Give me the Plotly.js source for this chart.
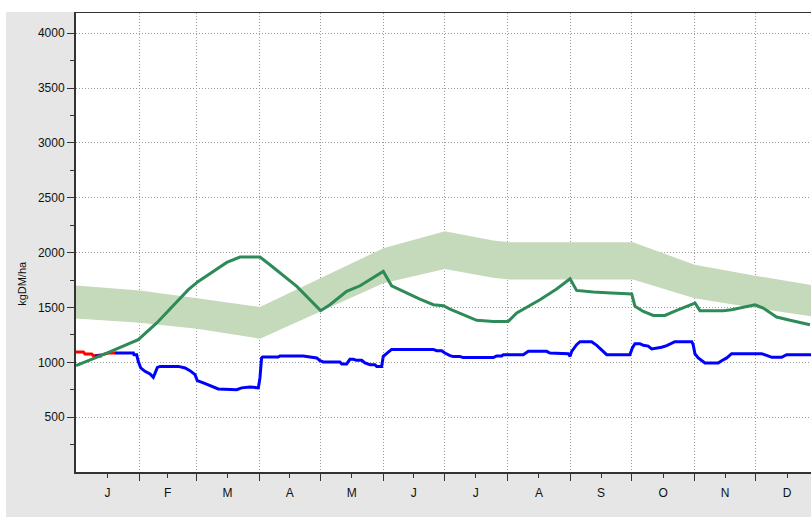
<!DOCTYPE html>
<html>
<head>
<meta charset="utf-8">
<script src="https://cdn.plot.ly/plotly-3.0.1.min.js"></script>
<style>
html,body{margin:0;padding:0;background:#ffffff;overflow:hidden;width:811px;height:518px;}
#chart{position:absolute;left:6px;top:12px;width:805px;height:505px;}
</style>
</head>
<body>
<div id="chart"></div>
<script>
// Day of year (0 = 1 Jan) and kgDM/ha values
const monthLabels = ["J","F","M","A","M","J","J","A","S","O","N","D"];
const monthMid = [15.5,45,74.5,105,135.5,166,196.5,227.5,258,288.5,319,349.5];
const monthStart = [31,59,90,120,151,181,212,243,273,304,334];
const yTicks = [500,1000,1500,2000,2500,3000,3500,4000];
const yMinorTicks = [250,750,1250,1750,2250,2750,3250,3750];

const bandDays  = [0,31.4,59.5,90.4,151,181.3,205,213,273.7,304,333.7,361.2];
const bandUpper = [1700,1655,1585,1505,2040,2195,2110,2095,2095,1890,1790,1705];
const bandLower = [1400,1360,1305,1215,1720,1850,1770,1755,1755,1585,1495,1420];

const redDays = [0,3.6,4.4,7.7,8.5,9.5,13,15.9,19.5];
const redVals = [1095,1095,1076,1076,1061,1061,1070,1085,1085];

const blueDays = [9.3,12.6,16,19.2,28.2,28.5,29.8,30.6,31.8,33.9,36.4,38,40,41.3,50.3,53.6,56,58.5,59.6,62.6,66.7,69.9,79,81.4,85.5,88,89.6,90.4,91.2,91.7,99.4,100.2,111.7,115,118.3,119.9,121.5,129.7,130.6,133,134.6,136.3,137.9,140.4,142,144.5,146.9,147.8,150.2,151,153.5,155.1,175.6,177.2,179.7,181.3,183.8,185.4,188.7,190.3,205.1,206.7,209.2,210,219.8,222.3,231.3,232.9,241.9,242.8,243.6,246,247.7,253.4,255.9,258.3,260.8,272.2,273.4,274.7,277.1,278.8,281.2,282.9,284.5,287.8,290.3,292.7,294.3,302.6,303.3,304.2,305.8,309.1,315.6,317.3,319.8,322.2,336.9,339.4,341.9,346.8,349.2,361.3];
const blueVals = [1058,1058,null,1085,1085,1070,1070,1009,949,918,894,863,954,963,963,949,924,888,833,812,781,757,751,767,776,772,767,858,1040,1049,1049,1058,1058,1049,1040,1015,1003,1003,985,985,1027,1027,1018,1018,994,979,979,961,961,1055,1095,1118,1118,1106,1106,1085,1061,1052,1052,1043,1043,1058,1058,1070,1070,1100,1100,1085,1079,1055,1100,1161,1188,1188,1155,1116,1070,1070,1131,1170,1170,1155,1148,1122,1125,1137,1152,1170,1188,1188,1161,1076,1040,994,994,1015,1040,1079,1079,1064,1046,1046,1070,1070];

const greenDays = [0,13.4,30.6,39.7,55.2,60.1,74.1,80.6,90.4,95.3,108.5,120.2,124.8,133,139.6,151,155.1,160.8,169,175.6,180.5,183.8,190.3,196.9,205.1,212.4,216.6,228,236.2,242.8,246,254.2,263.2,273.1,274.7,278.8,283.7,289.4,295.2,300.1,304.2,306.6,318.1,322.2,328.7,333.7,337.7,344.3,350.9,360.7];
const greenVals = [970,1070,1207,1359,1662,1738,1911,1960,1960,1890,1692,1471,1525,1647,1698,1829,1698,1647,1577,1525,1516,1486,1434,1383,1373,1373,1450,1571,1668,1762,1656,1641,1632,1623,1510,1464,1428,1428,1473,1510,1541,1471,1471,1480,1504,1525,1495,1413,1383,1343];

const traces = [
  {x: bandDays, y: bandLower, type:'scatter', mode:'lines', line:{width:0, color:'rgba(0,0,0,0)'}, hoverinfo:'skip'},
  {x: bandDays, y: bandUpper, type:'scatter', mode:'lines', fill:'tonexty', fillcolor:'#c5d9bb', line:{width:0, color:'rgba(0,0,0,0)'}, hoverinfo:'skip'},
  {x: redDays, y: redVals, type:'scatter', mode:'lines', line:{color:'#ff0000', width:3}},
  {x: blueDays, y: blueVals, type:'scatter', mode:'lines', connectgaps:false, line:{color:'#0000ff', width:3}},
  {x: greenDays, y: greenVals, type:'scatter', mode:'lines', line:{color:'#2e8b57', width:3}}
];

const layout = {
  width: 805, height: 505,
  margin: {l:70, r:0, t:1, b:45},
  paper_bgcolor: '#e6e6e6',
  plot_bgcolor: '#ffffff',
  showlegend: false,
  hovermode: false,
  font: {family: 'Liberation Sans, Arial, sans-serif', size: 12, color: '#111'},
  xaxis: {
    range: [0, 361.2],
    tickmode: 'array', tickvals: monthMid, ticktext: monthLabels,
    ticks: 'outside', ticklen: 4, tickwidth: 1, tickcolor: '#333',
    ticklabelstandoff: 5,
    showgrid: false, zeroline: false,
    showline: true, linecolor: '#333', linewidth: 2, mirror: true,
    minor: {tickmode:'array', tickvals: monthStart, ticks:'outside', ticklen:7, tickwidth:1, tickcolor:'#333',
            showgrid:true, gridcolor:'#999999', griddash:'1px,2px', gridwidth:1},
    fixedrange: true
  },
  yaxis: {
    range: [0, 4185],
    tickmode: 'array', tickvals: yTicks, ticktext: yTicks.map(String),
    ticks: 'outside', ticklen: 7, tickwidth: 1, tickcolor: '#333',
    showgrid: true, gridcolor: '#999999', griddash: '1px,2px', gridwidth: 1,
    zeroline: false,
    showline: true, linecolor: '#333', linewidth: 2,
    minor: {tickmode:'array', tickvals: yMinorTicks, ticks:'outside', ticklen:4, tickwidth:1, tickcolor:'#333', showgrid:false},
    fixedrange: true
  },
  annotations: [{
    text: 'kgDM/ha', xref:'paper', yref:'paper', x: -0.0735, y: 0.412,
    textangle: -90, showarrow: false, xanchor:'center', yanchor:'middle',
    font: {family:'Liberation Sans, Arial, sans-serif', size: 11, color:'#111'}
  }]
};

Plotly.newPlot('chart', traces, layout, {staticPlot: true, displayModeBar: false});
</script>
</body>
</html>
